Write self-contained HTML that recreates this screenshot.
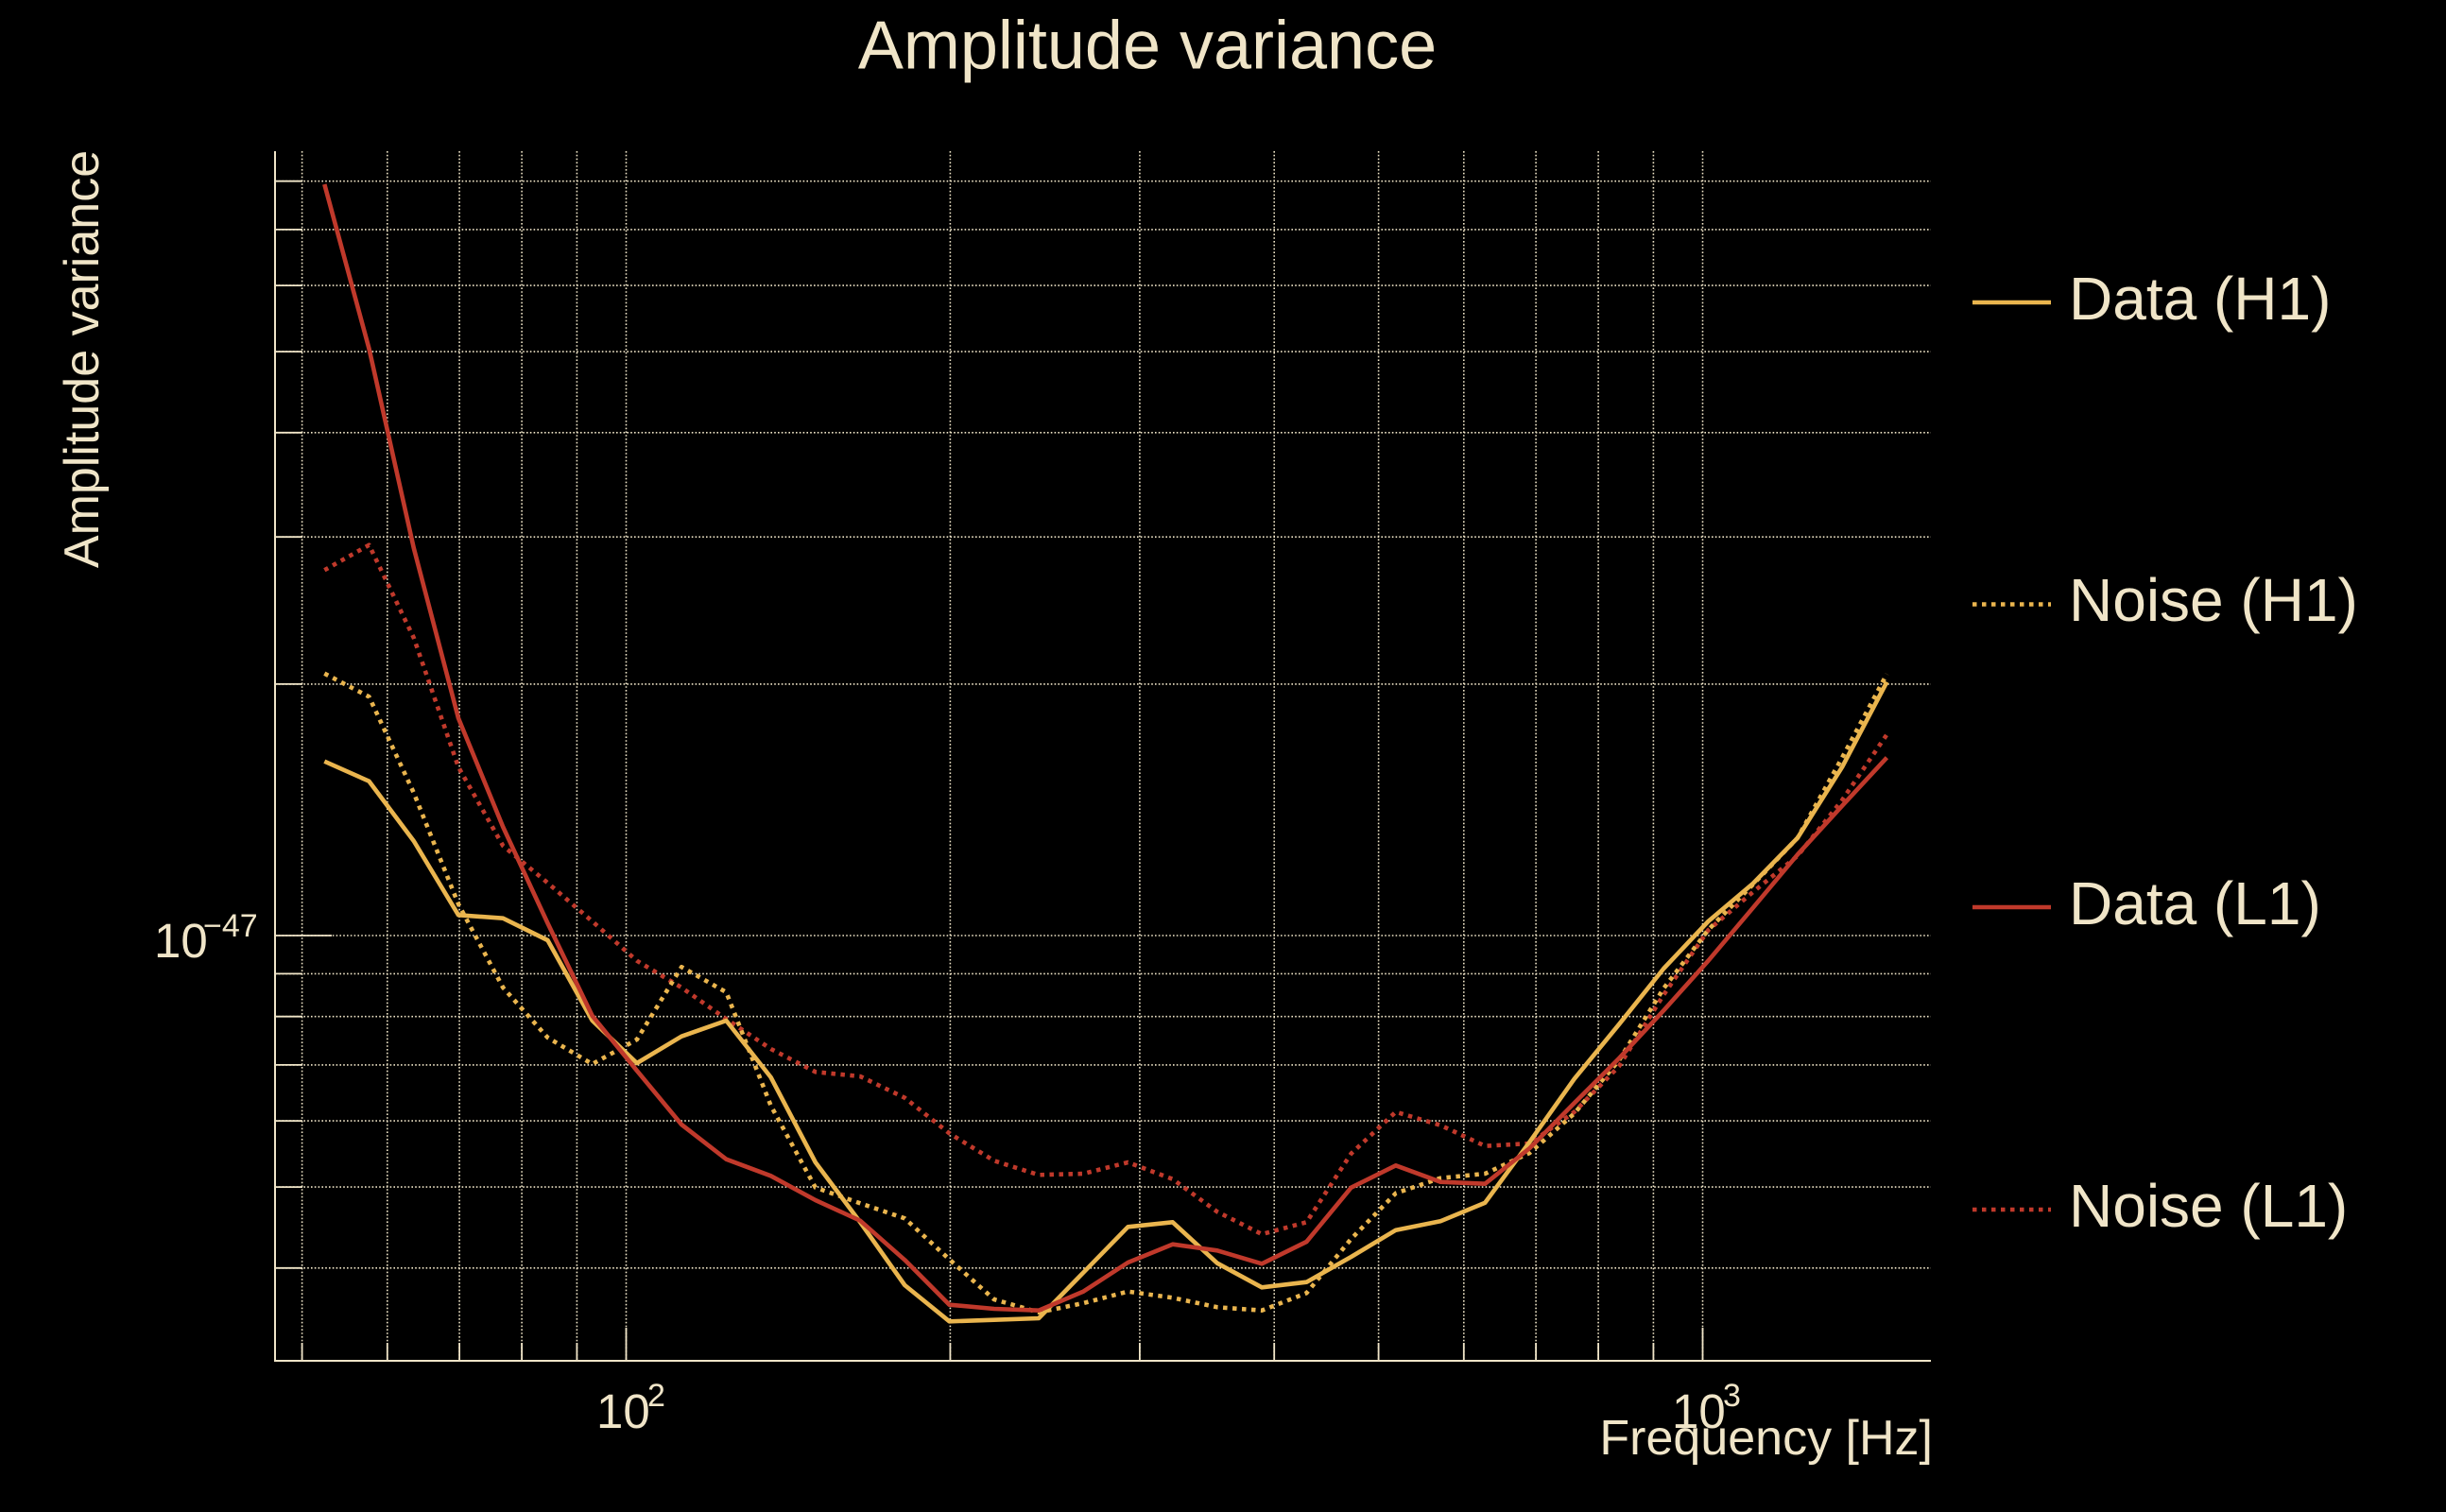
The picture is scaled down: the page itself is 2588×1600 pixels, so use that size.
<!DOCTYPE html>
<html>
<head>
<meta charset="utf-8">
<style>
  html, body { margin:0; padding:0; background:#000; }
  body { width:2588px; height:1600px; overflow:hidden; }
  svg { display:block; }
  text { font-family: "Liberation Sans", Arial, sans-serif; fill:#F0E5C8; }
</style>
</head>
<body>
<svg width="2588" height="1600" viewBox="0 0 2588 1600" xmlns="http://www.w3.org/2000/svg">
  <rect x="0" y="0" width="2588" height="1600" fill="#000"/>

  <!-- Title -->
  <text x="1214" y="72.7" font-size="72" text-anchor="middle">Amplitude variance</text>

  <!-- Y label -->
  <text transform="translate(104,380) rotate(-90)" font-size="52" text-anchor="middle">Amplitude variance</text>

  <!-- Grid: vertical -->
  <g stroke="#F0E5C8" stroke-width="1.6" stroke-dasharray="1.6 2.2" fill="none">
    <line x1="319.6" y1="160" x2="319.6" y2="1440"/>
    <line x1="409.8" y1="160" x2="409.8" y2="1440"/>
    <line x1="486.1" y1="160" x2="486.1" y2="1440"/>
    <line x1="552.1" y1="160" x2="552.1" y2="1440"/>
    <line x1="610.4" y1="160" x2="610.4" y2="1440"/>
    <line x1="662.5" y1="160" x2="662.5" y2="1440"/>
    <line x1="1005.4" y1="160" x2="1005.4" y2="1440"/>
    <line x1="1205.9" y1="160" x2="1205.9" y2="1440"/>
    <line x1="1348.2" y1="160" x2="1348.2" y2="1440"/>
    <line x1="1458.6" y1="160" x2="1458.6" y2="1440"/>
    <line x1="1548.8" y1="160" x2="1548.8" y2="1440"/>
    <line x1="1625.1" y1="160" x2="1625.1" y2="1440"/>
    <line x1="1691.1" y1="160" x2="1691.1" y2="1440"/>
    <line x1="1749.4" y1="160" x2="1749.4" y2="1440"/>
    <line x1="1801.5" y1="160" x2="1801.5" y2="1440"/>
  </g>
  <!-- Grid: horizontal -->
  <g stroke="#F0E5C8" stroke-width="1.6" stroke-dasharray="1.6 2.2" fill="none">
    <line x1="291" y1="191.7" x2="2043" y2="191.7"/>
    <line x1="291" y1="242.9" x2="2043" y2="242.9"/>
    <line x1="291" y1="302.1" x2="2043" y2="302.1"/>
    <line x1="291" y1="372.1" x2="2043" y2="372.1"/>
    <line x1="291" y1="457.8" x2="2043" y2="457.8"/>
    <line x1="291" y1="568.2" x2="2043" y2="568.2"/>
    <line x1="291" y1="723.9" x2="2043" y2="723.9"/>
    <line x1="291" y1="990" x2="2043" y2="990"/>
    <line x1="291" y1="1030.4" x2="2043" y2="1030.4"/>
    <line x1="291" y1="1075.7" x2="2043" y2="1075.7"/>
    <line x1="291" y1="1126.9" x2="2043" y2="1126.9"/>
    <line x1="291" y1="1186.1" x2="2043" y2="1186.1"/>
    <line x1="291" y1="1256.1" x2="2043" y2="1256.1"/>
    <line x1="291" y1="1341.8" x2="2043" y2="1341.8"/>
  </g>

  <!-- Axes -->
  <g stroke="#F0E5C8" stroke-width="2" fill="none">
    <line x1="291" y1="160" x2="291" y2="1441"/>
    <line x1="290" y1="1440" x2="2043" y2="1440"/>
  </g>
  <!-- Y ticks -->
  <g stroke="#F0E5C8" stroke-width="1.8" fill="none">
    <line x1="291" y1="191.7" x2="320" y2="191.7"/>
    <line x1="291" y1="242.9" x2="320" y2="242.9"/>
    <line x1="291" y1="302.1" x2="320" y2="302.1"/>
    <line x1="291" y1="372.1" x2="320" y2="372.1"/>
    <line x1="291" y1="457.8" x2="320" y2="457.8"/>
    <line x1="291" y1="568.2" x2="320" y2="568.2"/>
    <line x1="291" y1="723.9" x2="320" y2="723.9"/>
    <line x1="291" y1="990" x2="351" y2="990"/>
    <line x1="291" y1="1030.4" x2="320" y2="1030.4"/>
    <line x1="291" y1="1075.7" x2="320" y2="1075.7"/>
    <line x1="291" y1="1126.9" x2="320" y2="1126.9"/>
    <line x1="291" y1="1186.1" x2="320" y2="1186.1"/>
    <line x1="291" y1="1256.1" x2="320" y2="1256.1"/>
    <line x1="291" y1="1341.8" x2="320" y2="1341.8"/>
  </g>
  <!-- X ticks -->
  <g stroke="#F0E5C8" stroke-width="1.8" fill="none">
    <line x1="319.6" y1="1440" x2="319.6" y2="1421"/>
    <line x1="409.8" y1="1440" x2="409.8" y2="1421"/>
    <line x1="486.1" y1="1440" x2="486.1" y2="1421"/>
    <line x1="552.1" y1="1440" x2="552.1" y2="1421"/>
    <line x1="610.4" y1="1440" x2="610.4" y2="1421"/>
    <line x1="662.5" y1="1440" x2="662.5" y2="1405"/>
    <line x1="1005.4" y1="1440" x2="1005.4" y2="1421"/>
    <line x1="1205.9" y1="1440" x2="1205.9" y2="1421"/>
    <line x1="1348.2" y1="1440" x2="1348.2" y2="1421"/>
    <line x1="1458.6" y1="1440" x2="1458.6" y2="1421"/>
    <line x1="1548.8" y1="1440" x2="1548.8" y2="1421"/>
    <line x1="1625.1" y1="1440" x2="1625.1" y2="1421"/>
    <line x1="1691.1" y1="1440" x2="1691.1" y2="1421"/>
    <line x1="1749.4" y1="1440" x2="1749.4" y2="1421"/>
    <line x1="1801.5" y1="1440" x2="1801.5" y2="1405"/>
  </g>

  <!-- Tick labels -->
  <text x="163" y="1013" font-size="51">10</text>
  <text x="215" y="991" font-size="34">−47</text>
  <text x="631" y="1511" font-size="51">10</text>
  <text x="685" y="1488" font-size="34">2</text>
  <text x="1769" y="1511" font-size="51">10</text>
  <text x="1823" y="1488" font-size="34">3</text>

  <!-- X label -->
  <text x="2045" y="1539" font-size="52" text-anchor="end">Frequency [Hz]</text>

  <!-- Series -->
  <g fill="none" stroke-linejoin="round">
    <!-- Noise (L1) -->
    <polyline stroke="#C0392B" stroke-width="4.6" stroke-dasharray="4.5 5.5" points="343.3,603.3 390.5,576.7 437.8,675 485,811.7 532.2,895 579.5,934.3 626.7,975 673.9,1016.7 721.1,1045 768.4,1078.3 815.6,1110 862.8,1134.3 910.1,1139 957.3,1161.7 1004.5,1199.3 1051.8,1228.3 1099,1243.3 1146.2,1242 1193.4,1230 1240.7,1247.7 1287.9,1282.3 1335.1,1306 1382.4,1293.3 1429.6,1220.7 1476.8,1176.7 1524.1,1190.7 1571.3,1212.7 1618.5,1210 1665.7,1176.7 1713,1128.3 1760.2,1052.7 1807.4,984.3 1854.7,944 1901.9,905.7 1949.1,846.7 1996.4,777.3"/>
    <!-- Noise (H1) -->
    <polyline stroke="#EAB54E" stroke-width="4.6" stroke-dasharray="4.5 5.5" points="343.3,712.7 390.5,737.3 437.8,839 485,956.7 532.2,1045 579.5,1098 626.7,1126 673.9,1100 721.1,1023.3 768.4,1050 815.6,1170 862.8,1256.7 910.1,1273.3 957.3,1289.3 1004.5,1332.7 1051.8,1375 1099,1388.7 1146.2,1379 1193.4,1366.7 1240.7,1373.3 1287.9,1383.3 1335.1,1386.7 1382.4,1368.3 1429.6,1311 1476.8,1262.7 1524.1,1246.7 1571.3,1242 1618.5,1220 1665.7,1178.3 1713,1122 1760.2,1046 1807.4,984 1854.7,936 1901.9,886.7 1949.1,801.7 1996.4,713.3"/>
    <!-- Data (H1) -->
    <polyline stroke="#EAB54E" stroke-width="4.6" points="343.3,805.7 390.5,826.7 437.8,890 485,968.3 532.2,971.7 579.5,995 626.7,1080 673.9,1125 721.1,1096.7 768.4,1080 815.6,1140 862.8,1230 910.1,1293.3 957.3,1360 1004.5,1398.3 1051.8,1396.7 1099,1395 1146.2,1346.7 1193.4,1298.3 1240.7,1293.3 1287.9,1336.7 1335.1,1362.3 1382.4,1356.7 1429.6,1330 1476.8,1301.7 1524.1,1292.3 1571.3,1272.7 1618.5,1208.3 1665.7,1141.7 1713,1084 1760.2,1025 1807.4,975 1854.7,935 1901.9,886.7 1949.1,811.7 1996.4,721.7"/>
    <!-- Data (L1) -->
    <polyline stroke="#C0392B" stroke-width="4.6" points="343.3,195 390.5,369 437.8,580 485,760 532.2,875 579.5,977 626.7,1075 673.9,1133 721.1,1190 768.4,1226.7 815.6,1244.3 862.8,1270 910.1,1291.7 957.3,1333.3 1004.5,1380.7 1051.8,1385 1099,1386.7 1146.2,1366.7 1193.4,1336 1240.7,1316.7 1287.9,1323.3 1335.1,1337.3 1382.4,1314 1429.6,1256.7 1476.8,1233.3 1524.1,1250.7 1571.3,1252.7 1618.5,1215 1665.7,1167.3 1713,1120 1760.2,1069.3 1807.4,1016.7 1854.7,960.7 1901.9,904.3 1949.1,852.7 1996.4,801.7"/>
  </g>

  <!-- Legend -->
  <g fill="none" stroke-width="4.6">
    <line x1="2087" y1="320" x2="2170" y2="320" stroke="#EAB54E"/>
    <line x1="2087" y1="639.5" x2="2170" y2="639.5" stroke="#EAB54E" stroke-dasharray="4.5 5.5"/>
    <line x1="2087" y1="960" x2="2170" y2="960" stroke="#C0392B"/>
    <line x1="2087" y1="1280" x2="2170" y2="1280" stroke="#C0392B" stroke-dasharray="4.5 5.5"/>
  </g>
  <text x="2189" y="338" font-size="64">Data (H1)</text>
  <text x="2189" y="657" font-size="64">Noise (H1)</text>
  <text x="2189" y="978" font-size="64">Data (L1)</text>
  <text x="2189" y="1298" font-size="64">Noise (L1)</text>
</svg>
</body>
</html>
